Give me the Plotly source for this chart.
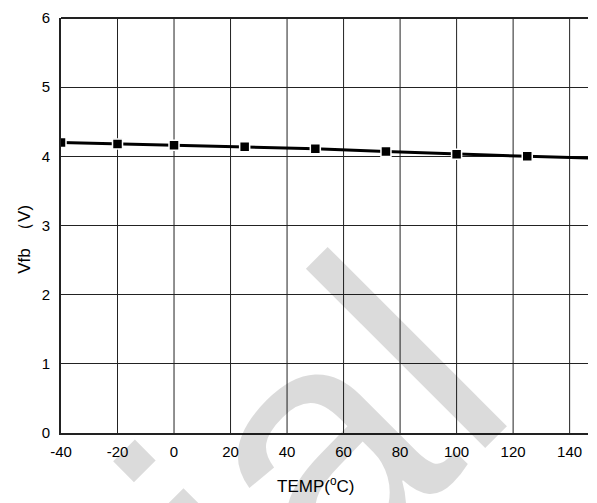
import plotly.graph_objects as go

# Feedback voltage vs. junction temperature
temp_c = [-40, -20, 0, 25, 50, 75, 100, 125, 150]
vfb_v = [4.20, 4.18, 4.16, 4.14, 4.11, 4.07, 4.03, 4.00, 3.97]

x_ticks = [-40, -20, 0, 20, 40, 60, 80, 100, 120, 140]
y_ticks = [0, 1, 2, 3, 4, 5, 6]

x_title = "TEMP(<sup>o</sup>C)"
y_title = "Vfb  （V)"

W, H = 597, 503
M = dict(l=61, r=9, t=14, b=70)
PW = W - M["l"] - M["r"]
PH = H - M["t"] - M["b"]

GRID = "#222222"
FONT = "Liberation Sans, Arial, sans-serif"


def px_to_paper(px, py):
    """Convert page pixel position to paper coordinates."""
    return (px - M["l"]) / PW, 1 - (py - M["t"]) / PH


fig = go.Figure()

fig.add_trace(go.Scatter(
    x=temp_c,
    y=vfb_v,
    mode="lines+markers",
    line=dict(color="#000000", width=3),
    marker=dict(symbol="square", size=10, color="#000000",
                line=dict(color="#ffffff", width=1.5)),
    cliponaxis=True,
    showlegend=False,
))

# vertical grid drawn at the tick values (the left one is the y axis line)
for xv in x_ticks[1:]:
    fig.add_shape(type="line", xref="x", yref="paper", x0=xv, x1=xv, y0=0, y1=1,
                  line=dict(color=GRID, width=1), layer="below")

# top frame edge (no right edge)
fig.add_shape(type="line", xref="paper", yref="paper", x0=0, x1=1, y0=1, y1=1,
              line=dict(color=GRID, width=2))

# faint diagonal watermark; translucent so the grid shows through
wx, wy = px_to_paper(314, 448)
fig.add_annotation(
    text="ial", xref="paper", yref="paper", x=wx, y=wy,
    xanchor="center", yanchor="middle", textangle=-45, showarrow=False,
    font=dict(family=FONT, size=350, color="rgba(0,0,0,0.14)"),
)

# axis titles
tx, ty = px_to_paper(315, 485)
fig.add_annotation(
    text=x_title, xref="paper", yref="paper", x=tx, y=ty,
    xanchor="center", yanchor="middle", showarrow=False,
    font=dict(family=FONT, size=17, color="#000000"),
)
yx, yy = px_to_paper(25, 238)
fig.add_annotation(
    text=y_title, xref="paper", yref="paper", x=yx, y=yy,
    xanchor="center", yanchor="middle", textangle=-90, showarrow=False,
    font=dict(family=FONT, size=17, color="#000000"),
)

axis_font = dict(family=FONT, size=15, color="#000000")

fig.update_layout(
    width=W, height=H,
    margin=M,
    paper_bgcolor="#ffffff",
    plot_bgcolor="rgba(0,0,0,0)",
    font=axis_font,
    xaxis=dict(
        range=[-40, 146.5],
        tickvals=x_ticks,
        ticktext=[str(v) for v in x_ticks],
        showgrid=False,
        showline=True, linecolor=GRID, linewidth=2,
        mirror=False,
        zeroline=False,
        ticks="", ticklabelstandoff=4,
        tickfont=axis_font,
    ),
    yaxis=dict(
        range=[0, 6],
        tickvals=y_ticks,
        ticktext=[str(v) for v in y_ticks],
        showgrid=True, gridcolor=GRID, gridwidth=1,
        showline=True, linecolor=GRID, linewidth=2,
        mirror=False,
        zeroline=False,
        ticks="", ticklabelstandoff=6,
        tickfont=axis_font,
    ),
)

fig.write_html("out.html")
